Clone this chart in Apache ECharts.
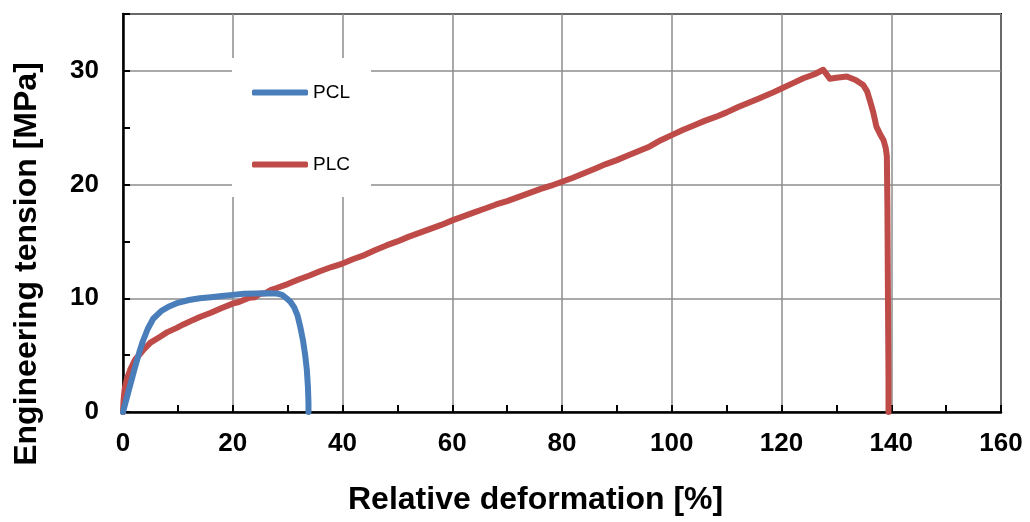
<!DOCTYPE html>
<html>
<head>
<meta charset="utf-8">
<script src="https://cdn.jsdelivr.net/npm/echarts@6/dist/echarts.min.js"></script>
<style>
html,body{margin:0;padding:0;background:#fff;}
#chart{width:1030px;height:522px;}
</style>
</head>
<body>
<div id="chart"></div>
<script>
// Series names
const seriesNames = ['PCL', 'PLC'];
const xAxisName = 'Relative deformation [%]';
const yAxisName = 'Engineering tension [MPa]';
// PCL: [relative deformation %, engineering tension MPa]
const pclX = [0, 1, 2, 3, 3.6, 4.5, 5.5, 7, 8.5, 10, 12, 14, 16, 18, 20, 22, 24, 26, 28, 29, 29.8, 30.5, 31.2, 31.8, 32.3, 32.8, 33.2, 33.5, 33.7, 33.8, 33.8];
const pclY = [0, 1.8, 3.6, 5.3, 6.2, 7.3, 8.2, 8.9, 9.3, 9.6, 9.85, 10.0, 10.1, 10.2, 10.3, 10.4, 10.42, 10.45, 10.42, 10.3, 10.0, 9.7, 9.2, 8.5, 7.5, 6.3, 5.0, 3.7, 2.2, 0.8, 0];
// PLC
const plcX = [0, 0.1, 0.3, 0.7, 1.3, 2.2, 3.7, 5, 6.7, 8, 9.8, 11, 12.8, 14, 15.9, 18, 20.1, 21, 22, 23, 24, 25, 26, 27, 28, 30, 32, 34, 36, 38, 40, 42, 44, 46, 48, 50, 52, 54, 56, 58, 60, 62, 64, 66, 68, 70, 72, 74, 76, 78, 80, 82, 84, 86, 88, 90, 92, 94, 96, 98, 100, 102, 104, 106, 108, 110, 112, 114, 116, 118, 120, 122, 124, 126, 127.6, 128.8, 130, 131.9, 133.5, 134.9, 135.6, 136.1, 136.7, 137.3, 138.0, 138.6, 139.0, 139.2, 139.3, 139.4, 139.5, 139.5];
const plcY = [0, 1.0, 2.0, 2.9, 3.7, 4.6, 5.45, 6.1, 6.6, 7.0, 7.4, 7.7, 8.1, 8.35, 8.7, 9.15, 9.55, 9.65, 9.85, 10.05, 10.1, 10.4, 10.45, 10.75, 10.9, 11.25, 11.65, 12.0, 12.4, 12.75, 13.05, 13.45, 13.8, 14.25, 14.65, 15.0, 15.4, 15.75, 16.1, 16.45, 16.85, 17.2, 17.55, 17.9, 18.25, 18.55, 18.9, 19.25, 19.6, 19.9, 20.25, 20.6, 21.0, 21.4, 21.8, 22.15, 22.55, 22.95, 23.35, 23.9, 24.35, 24.8, 25.2, 25.6, 25.95, 26.35, 26.8, 27.2, 27.6, 28.0, 28.45, 28.9, 29.35, 29.7, 30.1, 29.3, 29.4, 29.5, 29.2, 28.75, 28.2, 27.4, 26.4, 25.1, 24.4, 23.9, 23.2, 22.45, 18.0, 10.0, 3.0, 0];

const xTicks = {min: 0, max: 160, interval: 20};
const yTicks = {min: 0, max: 35, interval: 10, minorInterval: 5};

function pairs(xs, ys) { return xs.map((x, i) => [x, ys[i]]); }

const FONT = '"Liberation Sans", Arial, sans-serif';
const chart = echarts.init(document.getElementById('chart'), null, {renderer: 'canvas'});
chart.setOption({
  animation: false,
  backgroundColor: '#ffffff',
  grid: {left: 123, right: 29, top: 14, bottom: 110, show: true, borderColor: '#000', borderWidth: 2, backgroundColor: 'transparent'},
  legend: {
    data: seriesNames.map(n => ({name: n, icon: 'roundRect'})),
    orient: 'vertical',
    left: 232, top: 58,
    backgroundColor: '#ffffff',
    padding: [25, 21, 23, 20],
    itemWidth: 56, itemHeight: 6, itemGap: 53,
    textStyle: {fontFamily: FONT, fontSize: 19, color: '#000'}
  },
  graphic: [{
    type: 'text', left: 348, top: 484,
    style: {text: xAxisName, font: 'bold 32px ' + FONT, fill: '#000'},
    z: 10
  }, {
    type: 'text', rotation: Math.PI / 2,
    x: 27, y: 264,
    style: {text: yAxisName, font: 'bold 32px ' + FONT, fill: '#000', textAlign: 'center', textVerticalAlign: 'middle'},
    z: 10
  }],
  xAxis: {
    type: 'value', min: xTicks.min, max: xTicks.max, interval: xTicks.interval,
    axisLine: {show: true, lineStyle: {color: '#000', width: 2.5}},
    axisTick: {show: true, inside: true, length: 7, lineStyle: {color: '#000', width: 2}},
    minorTick: {show: true, splitNumber: 2, length: 7, lineStyle: {color: '#000', width: 2}},
    axisLabel: {fontFamily: FONT, fontSize: 26, fontWeight: 'bold', color: '#000', margin: 19},
    splitLine: {show: true, lineStyle: {color: '#8c8c8c', width: 1.5}}
  },
  yAxis: [{
    type: 'value', min: yTicks.min, max: yTicks.max, interval: yTicks.interval,
    axisLine: {show: true, lineStyle: {color: '#000', width: 2.5}},
    axisTick: {show: false},
    axisLabel: {fontFamily: FONT, fontSize: 26, fontWeight: 'bold', color: '#000', margin: 24,
      formatter: v => (v % 10 === 0 ? String(v) : '')},
    splitLine: {show: true, lineStyle: {color: '#8c8c8c', width: 1.5}}
  }, {
    type: 'value', min: yTicks.min, max: yTicks.max, interval: yTicks.minorInterval, position: 'left',
    axisLine: {show: false},
    axisTick: {show: true, inside: true, length: 7, lineStyle: {color: '#000', width: 2}},
    axisLabel: {show: false},
    splitLine: {show: false}
  }],
  series: [{
    name: seriesNames[0], type: 'line', yAxisIndex: 0, showSymbol: false, symbol: 'none',
    data: pairs(pclX, pclY), z: 3,
    lineStyle: {color: '#4a7ebb', width: 6, cap: 'round', join: 'round'},
    itemStyle: {color: '#4a7ebb'}
  }, {
    name: seriesNames[1], type: 'line', yAxisIndex: 0, showSymbol: false, symbol: 'none',
    data: pairs(plcX, plcY), z: 2,
    lineStyle: {color: '#be4b48', width: 6, cap: 'round', join: 'round'},
    itemStyle: {color: '#be4b48'}
  }]
});
</script>
</body>
</html>
